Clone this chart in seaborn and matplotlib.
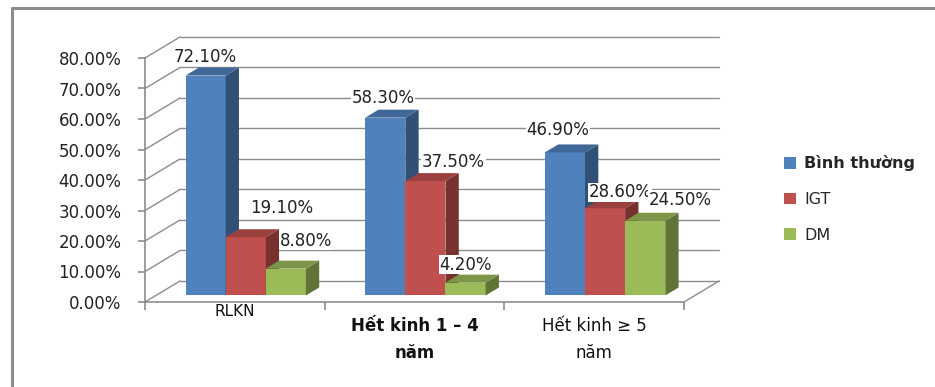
import numpy as np
import pandas as pd
import matplotlib.pyplot as plt
import matplotlib.colors as mcolors
from matplotlib.lines import Line2D
from matplotlib.patches import Polygon, Patch
import seaborn as sns

# data
categories = ["RLKN", "Hết kinh 1 – 4\nnăm", "Hết kinh ≥ 5\nnăm"]
groups = ["Bình thường", "IGT", "DM"]
binh_thuong = [72.1, 58.3, 46.9]
igt = [19.1, 37.5, 28.6]
dm = [8.8, 4.2, 24.5]
yticks = [0, 10, 20, 30, 40, 50, 60, 70, 80]

colors = ["#4F81BD", "#C0504D", "#9BBB59"]
grey = "#8C8C8C"

df = pd.DataFrame({
    "cat": categories * 3,
    "grp": [g for g in groups for _ in categories],
    "val": binh_thuong + igt + dm,
})

sns.set_style("white")
plt.rcParams['font.family'] = ['DejaVu Sans']

fig = plt.figure(figsize=(9.35, 3.87), dpi=100)
ax = fig.add_axes([145 / 935, (387 - 308.1) / 387, 575 / 935, 274.5 / 387])

sns.barplot(data=df, x="cat", y="val", hue="grp", palette=colors,
            width=0.67, saturation=1, legend=False, ax=ax, zorder=3, linewidth=0)

ax.set_xlim(-0.5, 2.7)
ax.set_ylim(-2, 88)

# 3D depth of the wall (in data units) and of the bars
DX, DY = 0.195, 6.9
ox, oy = 0.31 * DX, 0.31 * DY
bx, by = 0.38 * DX, 0.38 * DY

# back wall grid + side wall diagonals
for t in yticks:
    ax.plot([-0.5 + DX, 2.5 + DX], [t + DY, t + DY], color=grey, lw=1, zorder=1, clip_on=False)
    ax.plot([-0.5, -0.5 + DX], [t, t + DY], color=grey, lw=1, zorder=1, clip_on=False)
ax.plot([2.5, 2.5 + DX], [0, DY], color=grey, lw=1, zorder=1, clip_on=False)

# fake 3d boxes from the seaborn bars
for h, cont in enumerate(ax.containers):
    base = np.array(mcolors.to_rgb(colors[h]))
    for p in cont.patches:
        p.set_x(p.get_x() + ox)
        p.set_y(oy)
        p.set_zorder(3 + h * 0.1)
        x0, w, y1 = p.get_x(), p.get_width(), oy + p.get_height()
        side = Polygon([(x0 + w, oy), (x0 + w + bx, oy + by), (x0 + w + bx, y1 + by), (x0 + w, y1)],
                       closed=True, fc=base * 0.62, ec="none", zorder=3 + h * 0.1)
        top = Polygon([(x0, y1), (x0 + w, y1), (x0 + w + bx, y1 + by), (x0 + bx, y1 + by)],
                      closed=True, fc=base * 0.8, ec="none", zorder=3 + h * 0.1)
        ax.add_patch(side)
        ax.add_patch(top)

# value labels (pixel offsets from bar top centre)
label_offsets = [[(0, 19), (-2, 20), (-7, 22)],
                 [(36, 29), (28, 19), (15, 16)],
                 [(20, 28), (0, 18), (35, 21)]]
for h, cont in enumerate(ax.containers):
    for i, p in enumerate(cont.patches):
        v = p.get_height()
        ax.annotate(f"{v:.2f}%", (p.get_x() + p.get_width() / 2, p.get_y() + v),
                    xytext=label_offsets[h][i], textcoords="offset pixels",
                    ha="center", va="center", fontsize=12, color="#222222", zorder=6,
                    bbox=dict(fc="white", ec="none", pad=0.5))

# axes: front y axis and floor line
for s in ["top", "right"]:
    ax.spines[s].set_visible(False)
ax.spines["left"].set_bounds(0, 80)
ax.spines["bottom"].set_position(("data", 0))
ax.spines["bottom"].set_bounds(-0.5, 2.5)
for s in ["left", "bottom"]:
    ax.spines[s].set_color(grey)
    ax.spines[s].set_linewidth(1.2)
ax.set_yticks(yticks)
ax.set_yticklabels([f"{t:.2f}%" for t in yticks], fontsize=12, color="#222222")
ax.set_xticks([-0.5, 0.5, 1.5, 2.5])
ax.set_xticklabels([])
ax.tick_params(axis="y", direction="out", length=5, width=1.2, color=grey, pad=12, left=True)
ax.tick_params(axis="x", direction="out", length=6, width=1.2, color=grey, bottom=True)
ax.set_xlabel("")
ax.set_ylabel("")

# category labels
ax.text(0, -0.8, categories[0], ha="center", va="top", fontsize=11, color="#111111")
ax.text(1, -5.0, categories[1], ha="center", va="top", fontsize=12, fontweight="bold",
        linespacing=1.65, color="#111111")
ax.text(2, -5.0, categories[2], ha="center", va="top", fontsize=12,
        linespacing=1.65, color="#111111")

# legend
handles = [Patch(fc=c, ec="none") for c in colors]
leg = fig.legend(handles, groups, loc="center left", bbox_to_anchor=(770 / 935, (387 - 199) / 387),
                 frameon=False, fontsize=11.5, handlelength=0.75, handleheight=0.75,
                 handletextpad=0.5, labelspacing=1.3)
leg.get_texts()[0].set_fontweight("bold")

# outer frame (left + top)
fig.add_artist(Line2D([11.5 / 935, 11.5 / 935], [0, (387 - 8) / 387], color=grey, lw=2.2))
fig.add_artist(Line2D([11.5 / 935, 1], [(387 - 8) / 387, (387 - 8) / 387], color=grey, lw=2.2))

plt.savefig("out.png", dpi=100)
